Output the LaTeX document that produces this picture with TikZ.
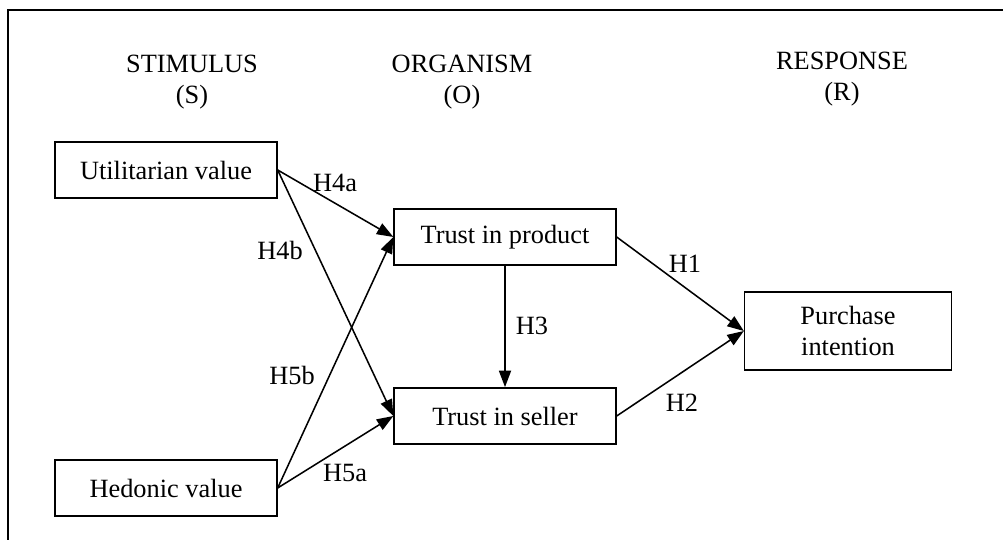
\documentclass[tikz,border=0pt]{standalone}
\usepackage{fontspec}
\setmainfont{Liberation Serif}
\usetikzlibrary{arrows.meta}
\tikzset{
    varbox/.style={draw, line width=0.7pt, minimum width=3.55cm, minimum height=0.9cm, align=center},
    hyparrow/.style={-{Triangle[length=7.5pt,width=5.5pt]}, line width=0.7pt},
    hyplabel/.style={inner sep=1pt},
    stage/.style={align=center}
}

\begin{document}
\begin{tikzpicture}[x=0.016cm, y=-0.016cm, font=\fontsize{12}{14}\selectfont]
    \useasboundingbox (0,0) rectangle (1003,540);
    \draw[line width=0.7pt] (1003,10) -- (8,10) -- (8,540);

    \node[stage] (stim) at (192,82) {STIMULUS\\(S)};
    \node[stage] (org) at (462,82) {ORGANISM\\(O)};
    \node[stage] (resp) at (842,79) {RESPONSE\\(R)};

    \node[varbox] (util) at (166,170) {Utilitarian value};
    \node[varbox] (hed) at (166,488) {Hedonic value};
    \node[varbox] (prod) at (505,237) {Trust in product};
    \node[varbox] (sell) at (505,416) {Trust in seller};
    \node[varbox, minimum width=3.31cm, minimum height=1.25cm] (buy) at (848,331) {Purchase\\intention};

    \path [hyparrow](util.east) edge (prod.west);
    \path [hyparrow](util.east) edge (sell.west);
    \path [hyparrow](hed.east) edge (prod.west);
    \path [hyparrow](hed.east) edge (sell.west);
    \path [hyparrow](prod) edge (sell);
    \path [hyparrow](prod.east) edge (buy.west);
    \path [hyparrow](sell.east) edge (buy.west);

    \node[hyplabel] (h4a) at (335,183) {H4a};
    \node[hyplabel] (h4b) at (280,250) {H4b};
    \node[hyplabel] (h5b) at (292,375) {H5b};
    \node[hyplabel] (h5a) at (345,473) {H5a};
    \node[hyplabel] (h3) at (532,326) {H3};
    \node[hyplabel] (h1) at (685,264) {H1};
    \node[hyplabel] (h2) at (682,403) {H2};
\end{tikzpicture}
\end{document}
